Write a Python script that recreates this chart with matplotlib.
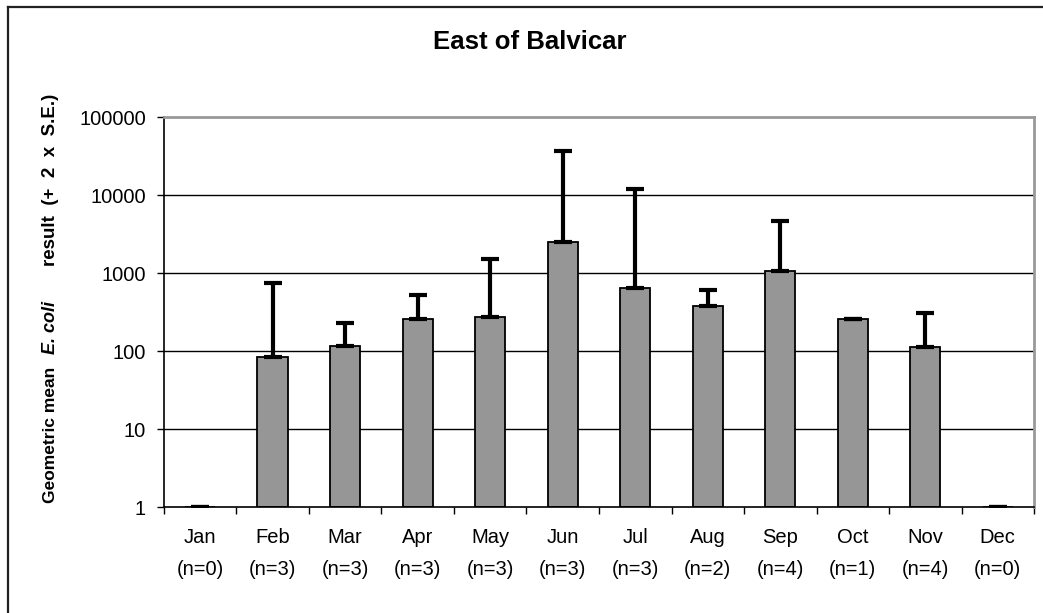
import numpy as np
import matplotlib
matplotlib.use('Agg')
from matplotlib import pyplot as plt
from matplotlib.lines import Line2D
from matplotlib.ticker import FixedLocator, FuncFormatter

plt.rcParams['font.family'] = ['Liberation Sans', 'DejaVu Sans']

# %%
months = ['Jan', 'Feb', 'Mar', 'Apr', 'May', 'Jun', 'Jul', 'Aug', 'Sep', 'Oct', 'Nov', 'Dec']
n_samples = [0, 3, 3, 3, 3, 3, 3, 2, 4, 1, 4, 0]
geo_mean = [1, 83, 117, 255, 270, 2520, 650, 380, 1050, 255, 111, 1]
upper_2se = [1, 745, 227, 522, 1510, 36500, 11800, 611, 4600, 258, 305, 1]
y_ticks = [1, 10, 100, 1000, 10000, 100000]

# %%
fig = plt.figure(figsize=(10.43, 6.13), dpi=100)
ax = fig.add_axes([0.1572, 0.1729, 0.8342, 0.6362])

x = np.arange(len(months))
geo_mean = np.array(geo_mean, dtype=float)
err_up = np.array(upper_2se, dtype=float) - geo_mean

ax.set_yscale('log')
ax.set_ylim(1, 100000)
ax.set_xlim(-0.5, len(months) - 0.5)

for yv in y_ticks[1:-1]:
    ax.axhline(yv, color='black', lw=1.0, zorder=1)

ax.bar(x, geo_mean - 1, bottom=1, width=0.42, color='#969696',
       edgecolor='black', linewidth=1.3, zorder=2)
ax.errorbar(x, geo_mean, yerr=[np.zeros_like(err_up), err_up], fmt='none',
            ecolor='black', elinewidth=3, capsize=6.5, capthick=3, zorder=3)

ax.yaxis.set_major_locator(FixedLocator(y_ticks))
ax.yaxis.set_minor_locator(FixedLocator([]))
ax.yaxis.set_major_formatter(FuncFormatter(lambda v, p: '%d' % v))
ax.tick_params(axis='y', which='major', direction='out', length=5, width=1,
               labelsize=14.5, pad=8)

ax.set_xticks(x)
ax.set_xticklabels(['%s\n(n=%d)' % (m, n) for m, n in zip(months, n_samples)])
ax.set_xticks(np.arange(-0.5, len(months)), minor=True)
ax.tick_params(axis='x', which='major', length=0, labelsize=14.5, pad=15)
ax.tick_params(axis='x', which='minor', direction='out', length=5, width=1)
for lbl in ax.get_xticklabels():
    lbl.set_linespacing(1.85)

for s in ['left', 'bottom']:
    ax.spines[s].set_color('black')
    ax.spines[s].set_linewidth(1.2)
for s in ['top', 'right']:
    ax.spines[s].set_color('#999999')
    ax.spines[s].set_linewidth(2)

fig.text(0.508, 0.931, 'East of Balvicar', ha='center', va='center',
         fontsize=18.5, fontweight='bold')

# y label in three pieces so E. coli can be italic
lx = 0.048
fig.text(lx, 1 - 503 / 613, 'Geometric mean', rotation=90, ha='center', va='bottom',
         fontsize=12.5, fontweight='bold')
fig.text(lx, 1 - 328 / 613, 'E. coli', rotation=90, ha='center', va='center',
         fontsize=13, fontweight='bold', fontstyle='italic')
fig.text(lx, 1 - 94 / 613, 'result  (+  2  x  S.E.)', rotation=90, ha='center', va='top',
         fontsize=13.5, fontweight='bold')

# outer chart frame (clipped at right and bottom)
fig.add_artist(Line2D([8 / 1043, 8 / 1043], [0, 1 - 7 / 613], color='#222222', lw=1.6))
fig.add_artist(Line2D([8 / 1043, 1], [1 - 7 / 613, 1 - 7 / 613], color='#222222', lw=1.6))

fig.savefig('out.png', dpi=100)
